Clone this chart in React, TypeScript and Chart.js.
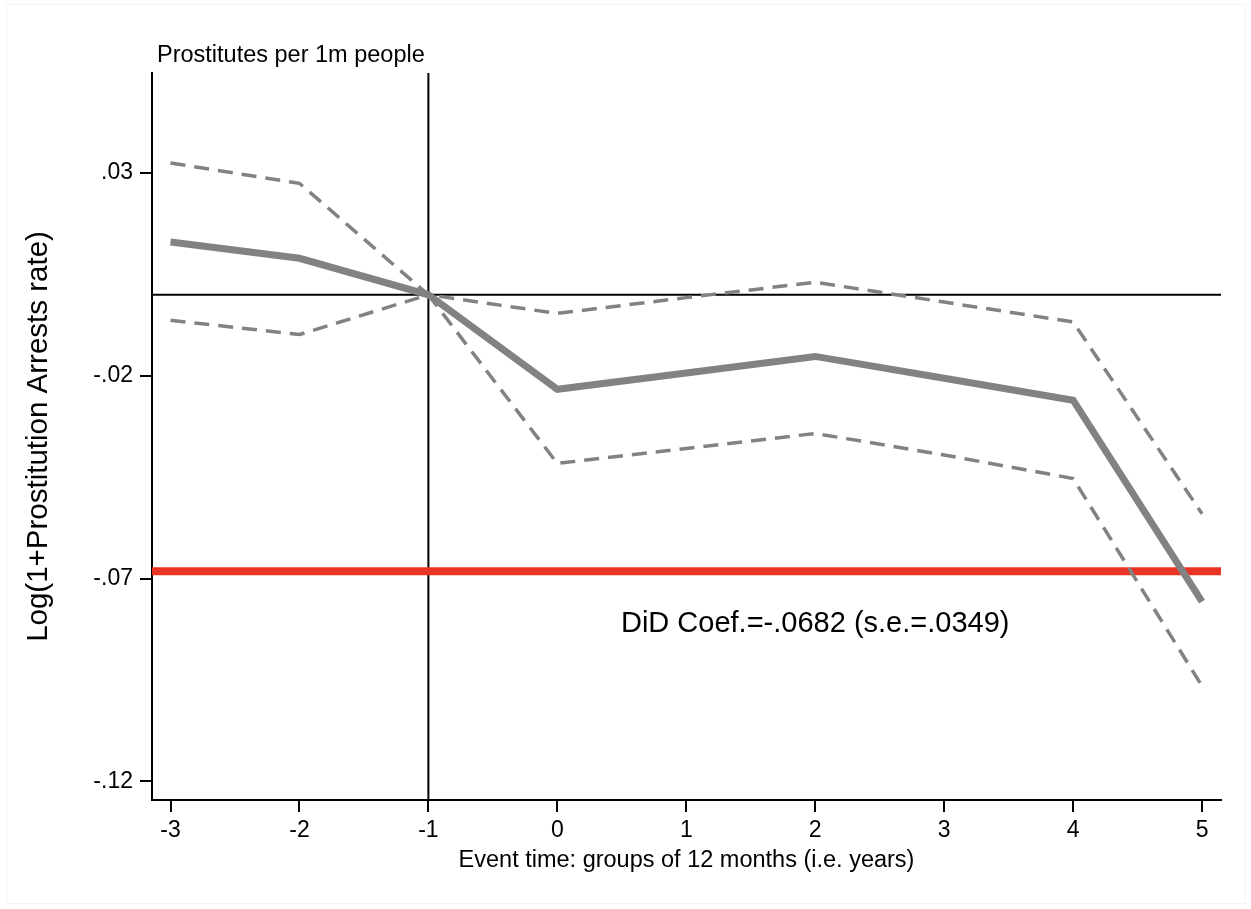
import { useEffect, useRef } from 'react';
import { Chart, registerables } from 'chart.js';

Chart.register(...registerables);

// ---- data ----
const eventTime = [-3, -2, -1, 0, 1, 2, 3, 4, 5];
const coefficient = [0.0130, 0.0090, 0, -0.0233, -0.0193, -0.0152, -0.0206, -0.0260, -0.0757];
const upperCI = [0.0325, 0.0275, 0, -0.0046, -0.0007, 0.0031, -0.0018, -0.0067, -0.0540];
const lowerCI = [-0.0063, -0.0098, 0, -0.0416, -0.0379, -0.0342, -0.0395, -0.0453, -0.0965];
const xTickValues = [-3, -2, -1, 0, 1, 2, 3, 4, 5];
const yTickValues = [0.03, -0.02, -0.07, -0.12];
const didCoef = -0.0682;
const didSE = 0.0349;
const treatmentTime = -1;
const zeroValue = 0;

const titleText = 'Prostitutes per 1m people';
const xTitleText = 'Event time: groups of 12 months (i.e. years)';
const yTitleText = 'Log(1+Prostitution Arrests rate)';

const X_MIN = -3.1435;
const X_MAX = 5.147;
const Y_MIN = -0.1246;
const Y_MAX = 0.0547;

const FONT = '"Liberation Sans", Arial, Helvetica, sans-serif';
const GRAY = 'rgb(130,130,130)';

const fmtShort = (v: number, d: number) => {
  const s = v.toFixed(d);
  return s.replace(/^(-?)0\./, '$1.');
};

const annotationText = `DiD Coef.=${fmtShort(didCoef, 4)} (s.e.=${fmtShort(didSE, 4)})`;

const refPlugin = {
  id: 'refLines',
  beforeDatasetsDraw(chart: any) {
    const { ctx, chartArea, scales } = chart;
    const { left, right, top, bottom } = chartArea;
    const xs = scales.x;
    const ys = scales.y;
    ctx.save();
    ctx.strokeStyle = '#000';
    ctx.lineWidth = 2;
    const y0 = ys.getPixelForValue(zeroValue);
    ctx.beginPath();
    ctx.moveTo(left, y0);
    ctx.lineTo(right, y0);
    ctx.stroke();
    const xv = xs.getPixelForValue(treatmentTime);
    ctx.beginPath();
    ctx.moveTo(xv, top);
    ctx.lineTo(xv, bottom);
    ctx.stroke();
    ctx.strokeStyle = 'rgb(232,52,36)';
    ctx.lineWidth = 8;
    const yr = ys.getPixelForValue(didCoef);
    ctx.beginPath();
    ctx.moveTo(left, yr);
    ctx.lineTo(right, yr);
    ctx.stroke();
    ctx.restore();
  },
  afterDraw(chart: any) {
    const { ctx, chartArea, scales } = chart;
    const { left, right, top, bottom } = chartArea;
    ctx.save();
    ctx.fillStyle = '#000';
    ctx.font = `23.5px ${FONT}`;
    ctx.textAlign = 'left';
    ctx.textBaseline = 'alphabetic';
    ctx.fillText(titleText, left + 5, 62);
    ctx.textAlign = 'center';
    ctx.fillText(xTitleText, (left + right) / 2, 867);
    ctx.font = `29px ${FONT}`;
    ctx.fillText(annotationText, scales.x.getPixelForValue(2), 632);
    ctx.font = `29.5px ${FONT}`;
    ctx.translate(39, (top + bottom) / 2);
    ctx.rotate(-Math.PI / 2);
    ctx.textBaseline = 'middle';
    ctx.fillText(yTitleText, 0, 0);
    ctx.restore();
    ctx.save();
    ctx.strokeStyle = '#f1f5f5';
    ctx.lineWidth = 1;
    ctx.strokeRect(6.5, 4.5, 1239, 899);
    ctx.restore();
  },
};

export default function App() {
  const canvasRef = useRef<HTMLCanvasElement | null>(null);

  useEffect(() => {
    const canvas = canvasRef.current;
    if (!canvas) return;
    const chart = new Chart(canvas, {
      type: 'line',
      data: {
        datasets: [
          {
            label: 'Upper CI',
            data: eventTime.map((x, i) => ({ x, y: upperCI[i] })),
            borderColor: GRAY,
            borderWidth: 3.5,
            borderDash: [15, 9],
            pointRadius: 0,
            tension: 0,
            fill: false,
          },
          {
            label: 'Lower CI',
            data: eventTime.map((x, i) => ({ x, y: lowerCI[i] })),
            borderColor: GRAY,
            borderWidth: 3.5,
            borderDash: [15, 9],
            pointRadius: 0,
            tension: 0,
            fill: false,
          },
          {
            label: 'Coefficient',
            data: eventTime.map((x, i) => ({ x, y: coefficient[i] })),
            borderColor: GRAY,
            borderWidth: 7,
            borderJoinStyle: 'miter',
            pointRadius: 0,
            tension: 0,
            fill: false,
          },
        ],
      },
      options: {
        responsive: false,
        devicePixelRatio: 1,
        animation: false,
        layout: { padding: { left: 0, top: 73, right: 30, bottom: 0 } },
        plugins: {
          legend: { display: false },
          tooltip: { enabled: false },
          title: { display: false },
        },
        scales: {
          x: {
            type: 'linear',
            min: X_MIN,
            max: X_MAX,
            grid: {
              drawOnChartArea: false,
              drawTicks: true,
              tickLength: 12,
              color: '#000',
              lineWidth: 2,
            },
            border: { display: true, color: '#000', width: 2 },
            ticks: {
              color: '#000',
              font: { family: FONT, size: 23 },
              padding: 5,
              autoSkip: false,
              maxRotation: 0,
              callback: (v: any) => String(v),
            },
            afterBuildTicks: (s: any) => {
              s.ticks = xTickValues.map((v) => ({ value: v }));
            },
            afterFit: (s: any) => {
              s.height = 109;
            },
          },
          y: {
            type: 'linear',
            min: Y_MIN,
            max: Y_MAX,
            grid: {
              drawOnChartArea: false,
              drawTicks: true,
              tickLength: 12,
              color: '#000',
              lineWidth: 2,
            },
            border: { display: true, color: '#000', width: 2 },
            ticks: {
              color: '#000',
              font: { family: FONT, size: 23 },
              padding: 7,
              autoSkip: false,
              callback: (v: any) => fmtShort(Number(v), 2),
            },
            afterBuildTicks: (s: any) => {
              s.ticks = yTickValues.map((v) => ({ value: v }));
            },
            afterFit: (s: any) => {
              s.width = 152;
            },
          },
        },
      },
      plugins: [refPlugin],
    } as any);
    return () => chart.destroy();
  }, []);

  return (
    <div style={{ position: 'fixed', left: 0, top: 0, width: 1251, height: 909, background: '#fff' }}>
      <canvas ref={canvasRef} width={1251} height={909} style={{ display: 'block' }} />
    </div>
  );
}
